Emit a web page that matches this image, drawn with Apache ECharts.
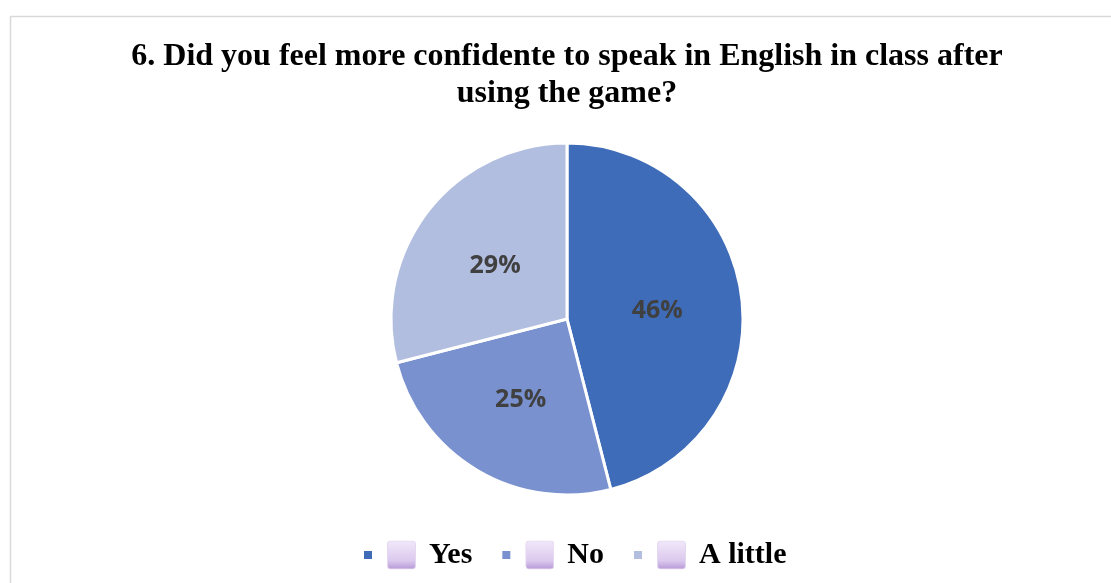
<!DOCTYPE html>
<html>
<head>
<meta charset="utf-8">
<style>
  html, body { margin: 0; padding: 0; background: #ffffff; }
  #chart { width: 1111px; height: 583px; }
</style>
<script src="https://cdn.jsdelivr.net/npm/echarts@6/dist/echarts.min.js"></script>
</head>
<body>
<div id="chart"></div>
<script>
// Survey answers and their shares (percent)
const categories = ['Yes', 'No', 'A little'];
const shares = [46, 25, 29];
const sliceColors = ['#3F6CB8', '#7991CF', '#B2BEDF'];
const titleText = '6. Did you feel more confidente to speak in English in class after\nusing the game?';

// Soft lilac tile drawn beside each legend entry
const tileSvg = 'data:image/svg+xml;utf8,' + encodeURIComponent(
  '<svg xmlns="http://www.w3.org/2000/svg" width="29" height="29">' +
  '<defs><linearGradient id="g" x1="0" y1="0" x2="0" y2="1">' +
  '<stop offset="0" stop-color="#F1E8FA"/><stop offset="0.7" stop-color="#DCC9EE"/>' +
  '<stop offset="1" stop-color="#B79AD6"/></linearGradient></defs>' +
  '<rect x="0.5" y="0.5" width="28" height="28" rx="3" ry="3" fill="url(#g)" stroke="#E4D8F0" stroke-width="1"/>' +
  '</svg>');

const chart = echarts.init(document.getElementById('chart'), null, { renderer: 'canvas' });

chart.setOption({
  backgroundColor: '#ffffff',
  animation: false,
  color: sliceColors,
  graphic: [{
    type: 'rect',
    left: 8, top: 14,
    shape: { width: 1130, height: 600 },
    style: { fill: 'none', stroke: '#D9D9D9', lineWidth: 1.5 },
    silent: true
  }],
  title: {
    text: titleText,
    left: 562,
    textAlign: 'center',
    top: 33,
    textStyle: {
      fontFamily: 'Liberation Serif',
      fontWeight: 'bold',
      fontSize: 32,
      lineHeight: 37,
      color: '#000000'
    }
  },
  legend: {
    data: categories,
    bottom: 8,
    left: 357,
    icon: 'rect',
    itemWidth: 10,
    itemHeight: 10,
    itemGap: 28,
    formatter: name => '{gap|}{tile|}{gap2|}{t|' + name + '}',
    textStyle: {
      rich: {
        gap: { width: 9 },
        tile: { width: 29, height: 29, backgroundColor: { image: tileSvg } },
        gap2: { width: 13 },
        t: {
          fontFamily: 'Liberation Serif',
          fontWeight: 'bold',
          fontSize: 30,
          color: '#000000'
        }
      }
    }
  },
  series: [{
    type: 'pie',
    center: [567, 319],
    radius: 176,
    startAngle: 90,
    clockwise: true,
    itemStyle: { borderColor: '#ffffff', borderWidth: 3 },
    label: {
      position: 'inside',
      formatter: '{c}%',
      offset: [0, 3],
      fontFamily: 'Open Sans',
      fontWeight: 'bold',
      fontSize: 25,
      color: '#404040'
    },
    labelLine: { show: false },
    emphasis: { disabled: true },
    data: categories.map((c, i) => ({ name: c, value: shares[i] }))
  }]
});
</script>
</body>
</html>
